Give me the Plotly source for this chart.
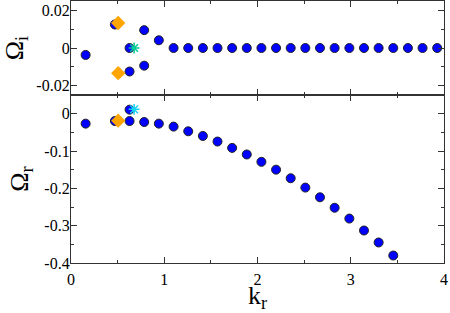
import plotly.graph_objects as go

# k_r values (blue circles)
k_top = [0.157, 0.471, 0.628, 0.628, 0.785, 0.785, 0.942, 1.100, 1.257, 1.414, 1.571,
         1.728, 1.885, 2.042, 2.199, 2.356, 2.513, 2.670, 2.827, 2.985, 3.142,
         3.299, 3.456, 3.613, 3.770, 3.927]
omega_i = [-0.0037, 0.0125, 0.0, -0.0125, 0.0095, -0.0094, 0.0041, 0.0, 0.0, 0.0, 0.0,
           0.0, 0.0, 0.0, 0.0, 0.0, 0.0, 0.0, 0.0, 0.0, 0.0,
           0.0, 0.0, 0.0, 0.0, 0.0]

k_bot = [0.157, 0.471, 0.628, 0.628, 0.785, 0.942, 1.100, 1.257, 1.414, 1.571,
         1.728, 1.885, 2.042, 2.199, 2.356, 2.513, 2.670, 2.827, 2.985, 3.142,
         3.299, 3.456]
omega_r = [-0.0267, -0.0197, 0.0107, -0.0197, -0.0224, -0.0267, -0.0347, -0.0472, -0.0597, -0.0747,
           -0.0917, -0.1093, -0.129, -0.150, -0.173, -0.198, -0.224, -0.252, -0.281, -0.313,
           -0.345, -0.380]

# orange diamonds
k_dia_top = [0.506, 0.506]
omega_i_dia = [0.0133, -0.0134]
k_dia_bot = [0.506]
omega_r_dia = [-0.0187]

# green stars
k_star = [0.677]
omega_i_star = [0.0]
omega_r_star = [0.0115]

x_ticks = [0, 1, 2, 3, 4]
top_ticks = [-0.02, 0, 0.02]
top_tick_text = ["-0.02", "0", "0.02"]
bot_ticks = [-0.4, -0.3, -0.2, -0.1, 0]
bot_tick_text = ["-0.4", "-0.3", "-0.2", "-0.1", "0"]

FONT = "Liberation Serif"
circle = dict(symbol="circle", size=9, color="#0000ff", line=dict(color="#222", width=1))
diamond = dict(symbol="diamond", size=11, color="#ffa500", line=dict(width=0))
star = dict(symbol="asterisk-open", size=9, line=dict(color="#00ff00", width=1.5))

fig = go.Figure()
fig.add_trace(go.Scatter(x=k_top, y=omega_i, mode="markers", marker=circle, xaxis="x2", yaxis="y2"))
fig.add_trace(go.Scatter(x=k_dia_top, y=omega_i_dia, mode="markers", marker=diamond, xaxis="x2", yaxis="y2"))
fig.add_trace(go.Scatter(x=k_star, y=omega_i_star, mode="markers", marker=star, xaxis="x2", yaxis="y2"))
fig.add_trace(go.Scatter(x=k_bot, y=omega_r, mode="markers", marker=circle, xaxis="x", yaxis="y"))
fig.add_trace(go.Scatter(x=k_dia_bot, y=omega_r_dia, mode="markers", marker=diamond, xaxis="x", yaxis="y"))
fig.add_trace(go.Scatter(x=k_star, y=omega_r_star, mode="markers", marker=star, xaxis="x", yaxis="y"))

axis_common = dict(showline=True, linecolor="#333", linewidth=1.2, mirror="ticks",
                   ticks="inside", ticklen=6, tickwidth=1, tickcolor="#333",
                   showgrid=False, zeroline=False, automargin=False)
minor_common = dict(ticks="inside", ticklen=3, tickwidth=1, tickcolor="#333", showgrid=False)

split = 168 / 262

fig.update_layout(
    width=450, height=313,
    margin=dict(l=71, r=6, t=1, b=50),
    paper_bgcolor="white", plot_bgcolor="white",
    showlegend=False,
    font=dict(family=FONT, color="black"),
    xaxis=dict(**axis_common, range=[0, 4], tickvals=x_ticks, domain=[0, 1],
               minor=dict(**minor_common, dtick=0.5), anchor="y",
               tickfont=dict(size=16, family=FONT), ticklabelstandoff=2,
               title=dict(text="k<sub>r</sub>", font=dict(size=26, family=FONT), standoff=7)),
    yaxis=dict(**axis_common, range=[-0.4, 0.05], tickvals=bot_ticks, ticktext=bot_tick_text,
               domain=[0, split], minor=dict(**minor_common, dtick=0.05), anchor="x",
               tickfont=dict(size=16, family=FONT), ticklabelstandoff=-3,
               title=dict(text="Ω<sub>r</sub>", font=dict(size=26, family=FONT), standoff=8)),
    xaxis2=dict(**axis_common, range=[0, 4], tickvals=x_ticks, showticklabels=False,
                domain=[0, 1], minor=dict(**minor_common, dtick=0.5), anchor="y2", matches="x"),
    yaxis2=dict(**axis_common, range=[-0.025, 0.025], tickvals=top_ticks, ticktext=top_tick_text,
                domain=[split, 1], minor=dict(**minor_common, dtick=0.01), anchor="x2",
                tickfont=dict(size=16, family=FONT), ticklabelstandoff=-3,
                title=dict(text="Ω<sub>i</sub>", font=dict(size=26, family=FONT), standoff=8)),
)

fig.write_html("out.html", config={"displayModeBar": False},
               post_script="document.body.style.margin='0';document.body.style.overflow='hidden';")
